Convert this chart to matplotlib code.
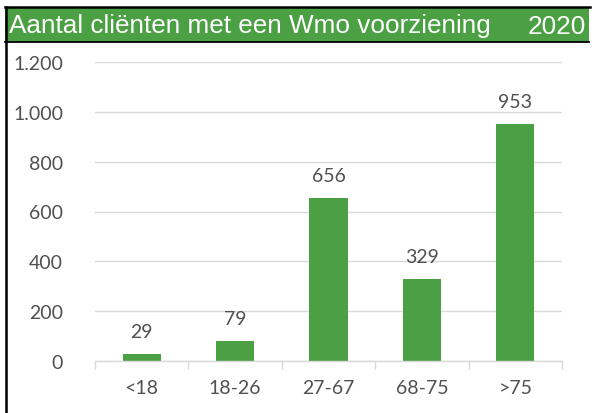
import matplotlib
matplotlib.use("Agg")
import matplotlib.pyplot as plt
from matplotlib.patches import Rectangle
from matplotlib.lines import Line2D
from matplotlib.ticker import FuncFormatter

categories = ["<18", "18-26", "27-67", "68-75", ">75"]
values = [29, 79, 656, 329, 953]
title = "Aantal cliënten met een Wmo voorziening"
year = "2020"
yticks = [0, 200, 400, 600, 800, 1000, 1200]

GREEN = "#4BA043"
TEXT = "#505050"
W, H = 592, 414

fig = plt.figure(figsize=(W / 100, H / 100), dpi=100)

def fx(px):
    return px / W

def fy(py):
    return 1 - py / H

# title bar
fig.patches.append(Rectangle((fx(5), fy(43)), fx(584), (43 - 8) / H,
                             transform=fig.transFigure, facecolor=GREEN,
                             edgecolor="none", zorder=0))
fig.lines.append(Line2D([fx(5), fx(590)], [fy(8), fy(8)], transform=fig.transFigure,
                        color="black", lw=1.8))
fig.lines.append(Line2D([fx(5), fx(589)], [fy(42.5), fy(42.5)], transform=fig.transFigure,
                        color="black", lw=1.3))
fig.lines.append(Line2D([fx(5.5), fx(5.5)], [fy(8), fy(414)], transform=fig.transFigure,
                        color="black", lw=1.8))
fig.text(fx(9), fy(26.5), title, color="white", fontsize=18.8,
         family="Liberation Sans", va="center", ha="left")
fig.text(fx(586), fy(26.5), year, color="white", fontsize=18.8,
         family="Liberation Sans", va="center", ha="right")

ax = fig.add_axes([fx(95), fy(362), fx(562) - fx(95), (362 - 63) / H])
x = list(range(len(categories)))
bars = ax.bar(x, values, width=0.41, color=GREEN, zorder=3)
ax.set_xlim(-0.5, len(categories) - 0.5)
ax.set_ylim(0, 1200)
ax.set_yticks(yticks)
ax.yaxis.set_major_formatter(FuncFormatter(lambda v, p: f"{int(v):,}".replace(",", ".")))
ax.set_xticks(x)
ax.set_xticklabels(categories)
ax.set_xticks([i - 0.5 for i in range(len(categories) + 1)], minor=True)
ax.tick_params(axis="x", which="major", length=0, pad=13, labelsize=14, labelcolor=TEXT)
ax.tick_params(axis="x", which="minor", length=6, width=1, color="#D9D9D9", direction="out")
ax.tick_params(axis="y", length=0, pad=23, labelsize=14, labelcolor=TEXT)
for lbl in ax.get_xticklabels() + ax.get_yticklabels():
    lbl.set_family("Lato")
ax.grid(axis="y", color="#D9D9D9", lw=1, zorder=0)
for s in ["top", "right", "left"]:
    ax.spines[s].set_visible(False)
ax.spines["bottom"].set_color("#D9D9D9")
ax.spines["bottom"].set_linewidth(1)
ax.spines["bottom"].set_zorder(4)

for xi, v in zip(x, values):
    ax.annotate(str(v), (xi, v), xytext=(0, 10), textcoords="offset points",
                ha="center", va="bottom", fontsize=14, color=TEXT, family="Lato")

fig.savefig("out.png", dpi=100)
